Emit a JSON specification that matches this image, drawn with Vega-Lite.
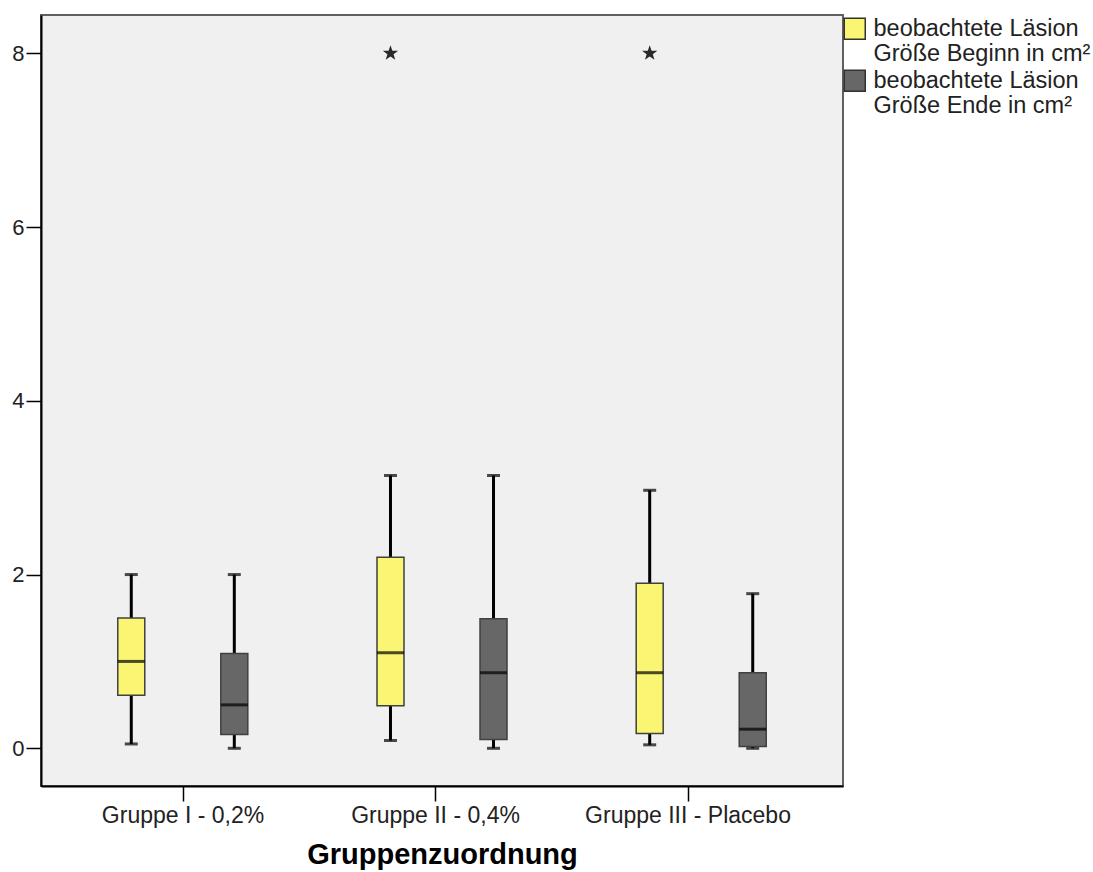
{
  "$schema": "https://vega.github.io/schema/vega-lite/v6.json",
  "width": 802,
  "height": 771,
  "autosize": {"type": "none"},
  "padding": {"left": 41, "top": 15, "right": 250, "bottom": 86},
  "background": "white",
  "config": {
    "view": {"fill": "#F0F0F0", "stroke": "#606060", "strokeWidth": 2},
    "font": "Liberation Sans"
  },
  "datasets": {
    "boxes": [
      {"group": "Gruppe I - 0,2%", "series": "beobachtete Läsion Größe Beginn in cm²", "lower": 0.05, "q1": 0.61, "median": 1.00, "q3": 1.50, "upper": 2.00},
      {"group": "Gruppe I - 0,2%", "series": "beobachtete Läsion Größe Ende in cm²", "lower": 0.00, "q1": 0.16, "median": 0.50, "q3": 1.09, "upper": 2.00},
      {"group": "Gruppe II - 0,4%", "series": "beobachtete Läsion Größe Beginn in cm²", "lower": 0.09, "q1": 0.49, "median": 1.10, "q3": 2.20, "upper": 3.14},
      {"group": "Gruppe II - 0,4%", "series": "beobachtete Läsion Größe Ende in cm²", "lower": 0.00, "q1": 0.10, "median": 0.87, "q3": 1.49, "upper": 3.14},
      {"group": "Gruppe III - Placebo", "series": "beobachtete Läsion Größe Beginn in cm²", "lower": 0.04, "q1": 0.17, "median": 0.87, "q3": 1.90, "upper": 2.97},
      {"group": "Gruppe III - Placebo", "series": "beobachtete Läsion Größe Ende in cm²", "lower": 0.00, "q1": 0.02, "median": 0.22, "q3": 0.87, "upper": 1.78}
    ],
    "outliers": [
      {"group": "Gruppe II - 0,4%", "series": "beobachtete Läsion Größe Beginn in cm²", "value": 8.0},
      {"group": "Gruppe III - Placebo", "series": "beobachtete Läsion Größe Beginn in cm²", "value": 8.0}
    ]
  },
  "layer": [
    {
      "data": {"name": "boxes"},
      "mark": {"type": "point", "opacity": 0},
      "encoding": {
        "x": {"field": "group", "type": "nominal",
              "scale": {"type": "band", "paddingInner": 0, "paddingOuter": 0.0881, "align": 0.354},
              "axis": {"orient": "bottom", "title": "Gruppenzuordnung", "titleFontSize": 29,
                       "titleFont": "Liberation Sans", "titleFontWeight": "bold", "titleColor": "#000000",
                       "titlePadding": 13, "labelFontSize": 23, "labelFont": "Liberation Sans",
                       "labelColor": "#222222", "labelPadding": 3, "labelAngle": 0, "labelLimit": 400,
                       "ticks": true, "tickSize": 15, "tickColor": "#000000", "tickWidth": 1.5,
                       "domainColor": "#000000", "domainWidth": 2}}
      }
    },
    {
      "data": {"name": "boxes"},
      "encoding": {
        "x": {"field": "group", "type": "nominal", "axis": null,
              "scale": {"paddingInner": 0, "paddingOuter": 0.047}},
        "xOffset": {"field": "series", "type": "nominal",
                    "scale": {"paddingInner": 0.5, "paddingOuter": 0.508}}
      },
      "layer": [
        {
          "mark": {"type": "rule", "color": "#000000", "strokeWidth": 3},
          "encoding": {
            "y": {"field": "lower", "type": "quantitative",
                  "scale": {"domain": [-0.434, 8.441], "nice": false, "zero": false},
                  "axis": {"values": [0, 2, 4, 6, 8], "format": "d", "title": null, "grid": false,
                           "labelFontSize": 22, "labelFont": "Liberation Sans", "labelColor": "#222222",
                           "labelPadding": 2, "tickSize": 15, "tickColor": "#000000", "tickWidth": 1.5,
                           "domainColor": "#000000", "domainWidth": 2}},
            "y2": {"field": "upper"}
          }
        },
        {
          "mark": {"type": "tick", "color": "#000000", "size": 13, "thickness": 3, "orient": "horizontal"},
          "encoding": {"y": {"field": "lower", "type": "quantitative"}}
        },
        {
          "mark": {"type": "tick", "color": "#000000", "size": 13, "thickness": 3, "orient": "horizontal"},
          "encoding": {"y": {"field": "upper", "type": "quantitative"}}
        },
        {
          "mark": {"type": "bar", "width": 27, "stroke": "#404040", "strokeWidth": 1.5, "opacity": 1},
          "encoding": {
            "y": {"field": "q1", "type": "quantitative"},
            "y2": {"field": "q3"},
            "color": {"field": "series", "type": "nominal",
                      "scale": {"range": ["#FAF674", "#676767"]},
                      "legend": {"title": null, "orient": "right", "offset": -2, "padding": 2,
                                 "symbolType": "square", "symbolSize": 441,
                                 "symbolStrokeColor": "#333333", "symbolStrokeWidth": 1.5,
                                 "labelFontSize": 23.5, "labelFont": "Liberation Sans", "labelColor": "#222222",
                                 "labelLineHeight": 23, "labelLimit": 400, "labelOffset": 7,
                                 "rowPadding": 1,
                                 "labelExpr": "[slice(datum.label, 0, 18), slice(datum.label, 19)]"}}
          }
        },
        {
          "mark": {"type": "tick", "color": "#000000", "size": 27, "thickness": 3, "orient": "horizontal"},
          "encoding": {"y": {"field": "median", "type": "quantitative"}}
        },
        {
          "data": {"name": "outliers"},
          "mark": {"type": "point", "shape": "M0,-1L0.235,-0.324L0.951,-0.309L0.380,0.124L0.588,0.809L0,0.4L-0.588,0.809L-0.380,0.124L-0.951,-0.309L-0.235,-0.324Z",
                   "filled": true, "color": "#2a2a2a", "size": 260, "opacity": 1},
          "encoding": {"y": {"field": "value", "type": "quantitative"}}
        }
      ]
    }
  ],
  "resolve": {"scale": {"x": "independent"}}
}
